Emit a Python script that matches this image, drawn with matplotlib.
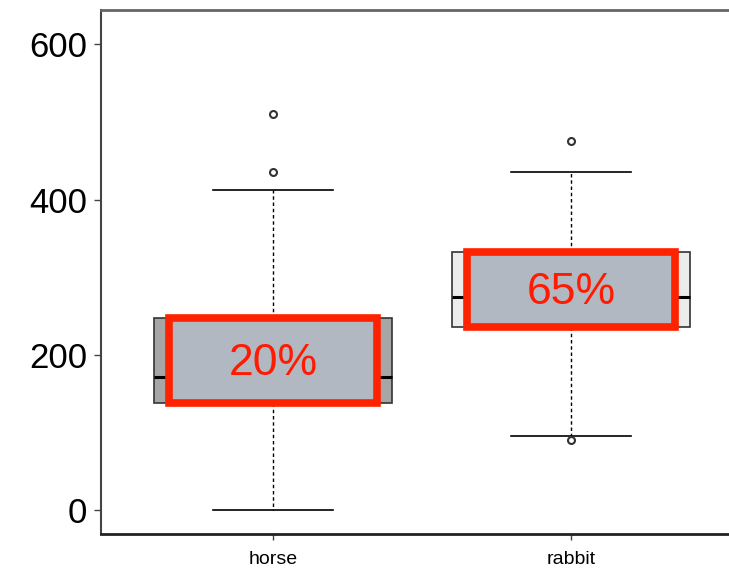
import matplotlib
matplotlib.use("Agg")
import matplotlib.pyplot as plt
from matplotlib.patches import Rectangle

plt.rcParams['font.family'] = ['Liberation Sans', 'DejaVu Sans']

# data
categories = ["horse", "rabbit"]
q1 = [138, 236]
med = [172, 275]
q3 = [248, 332]
whislo = [0, 95]
whishi = [412, 436]
fliers = [[435, 510], [90, 475]]
box_colors = ["#a6a6a6", "#ececec"]
percent_labels = ["20%", "65%"]
yticks = [0, 200, 400, 600]

fig = plt.figure(figsize=(7.29, 5.70), dpi=100)
ax = fig.add_axes([0.1385, 0.063, 0.8615, 0.919])

stats = []
for i, name in enumerate(categories):
    stats.append(dict(label=name, q1=q1[i], med=med[i], q3=q3[i],
                      whislo=whislo[i], whishi=whishi[i], fliers=fliers[i]))

positions = [1, 2]
bp = ax.bxp(stats, positions=positions, widths=0.8, capwidths=0.4,
            patch_artist=True, showfliers=True,
            boxprops=dict(edgecolor="#333333", linewidth=1.2),
            medianprops=dict(color="black", linewidth=2.2),
            whiskerprops=dict(color="black", linewidth=1, linestyle=(0, (2.5, 2))),
            capprops=dict(color="black", linewidth=1.2),
            flierprops=dict(marker="o", markersize=5, markerfacecolor="white",
                            markeredgecolor="#333333", markeredgewidth=1.5))
for patch, c in zip(bp["boxes"], box_colors):
    patch.set_facecolor(c)

# overlay label boxes
for i, txt in enumerate(percent_labels):
    x = positions[i]
    ax.add_patch(Rectangle((x - 0.35, q1[i]), 0.70, q3[i] - q1[i],
                           facecolor="#b1b8c2", edgecolor="#ff2200",
                           linewidth=5.5, zorder=5))
    ax.text(x, (q1[i] + q3[i]) / 2 - 4, txt, ha="center", va="center",
            color="#ff1a00", fontsize=32, zorder=6)

ax.set_xlim(0.423, 2.53)
ax.set_ylim(-31, 644)
ax.set_yticks(yticks)
ax.set_xticks(positions)
ax.set_xticklabels(categories, fontsize=14)
ax.tick_params(axis="y", labelsize=25, length=5, width=1, color="#444444", pad=5)
ax.tick_params(axis="x", length=4, width=1, color="#444444", pad=8)

ax.spines["right"].set_visible(False)
ax.spines["top"].set_color("#666666")
ax.spines["top"].set_linewidth(2)
ax.spines["left"].set_color("#444444")
ax.spines["left"].set_linewidth(1.5)
ax.spines["bottom"].set_color("#222222")
ax.spines["bottom"].set_linewidth(2)

fig.savefig("out.png", dpi=100)
